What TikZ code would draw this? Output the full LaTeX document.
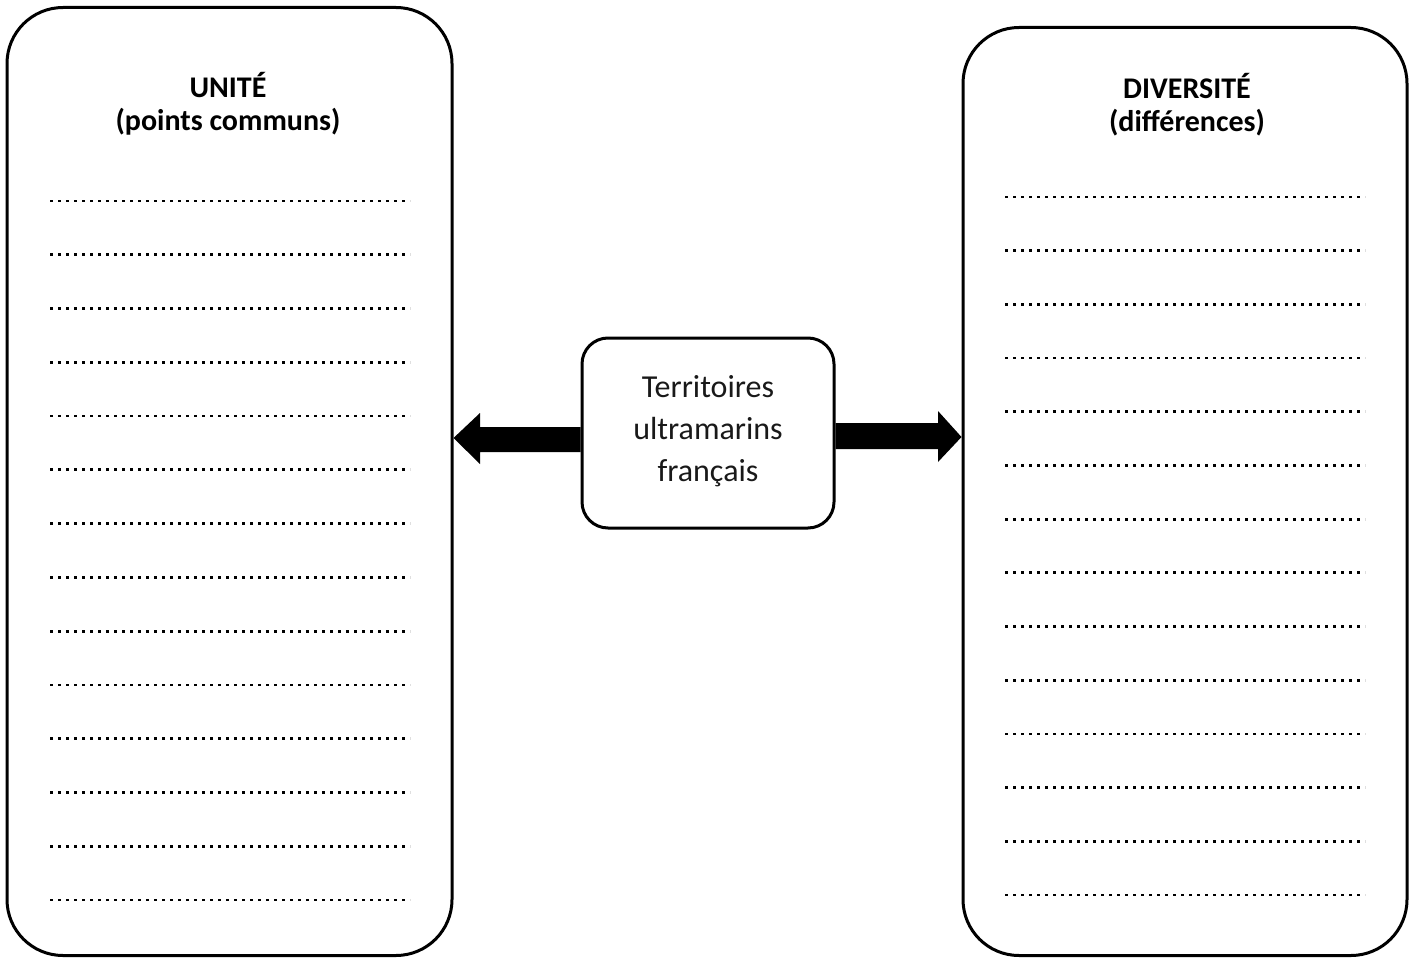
\documentclass[tikz,border=0pt]{standalone}
\usepackage{fontspec}
\setmainfont{Carlito}
\usetikzlibrary{calc}
\begin{document}
\begin{tikzpicture}[x=1pt,y=-1pt,
  panel/.style={draw, line width=3pt, rounded corners=56pt, inner sep=0pt},
  centerbox/.style={draw, line width=3pt, rounded corners=26pt, inner sep=0pt},
  centertext/.style={align=center, inner sep=0pt, font=\fontsize{32}{42}\selectfont, text=black!90},
  titletext/.style={align=center, font=\fontsize{30}{33}\selectfont\bfseries, inner sep=0pt},
  dotline/.style={line width=2.8pt, dash pattern=on 2.8pt off 5.2pt},
  bigarrow/.style={fill=black}]
\useasboundingbox (0,0) rectangle (1416,958);
\node[panel, minimum width=445pt, minimum height=948pt] (L) at (229.5,481.5) {};
\node[panel, minimum width=444pt, minimum height=928pt] (R) at (1185,491.5) {};
\node[centerbox, minimum width=252pt, minimum height=190pt] (C) at (708,433) {};
\node[centertext, anchor=base] (CT) at (708,481) {Territoires\\ultramarins\\français};
\node[titletext, anchor=base] (LT) at (228,130) {UNITÉ\\(points communs)};
\node[titletext, anchor=base] (RT) at (1187,131) {DIVERSITÉ\\(différences)};
% arrows
\fill[bigarrow] (C.west |- 0,427) -- (480,427) -- (480,413) -- (L.east |- 0,438) -- (480,464) -- (480,452) -- (C.west |- 0,452) -- cycle;
\fill[bigarrow] (C.east |- 0,423) -- (938,423) -- (938,411) -- (R.west |- 0,437) -- (938,462) -- (938,449) -- (C.east |- 0,449) -- cycle;
% dotted answer lines
\foreach \i in {0,...,13}{
  \draw[dotline] (50,{201+53.77*\i}) -- (410,{201+53.77*\i});
  \draw[dotline] (1005,{197+53.69*\i}) -- (1365,{197+53.69*\i});
}
\end{tikzpicture}
\end{document}
